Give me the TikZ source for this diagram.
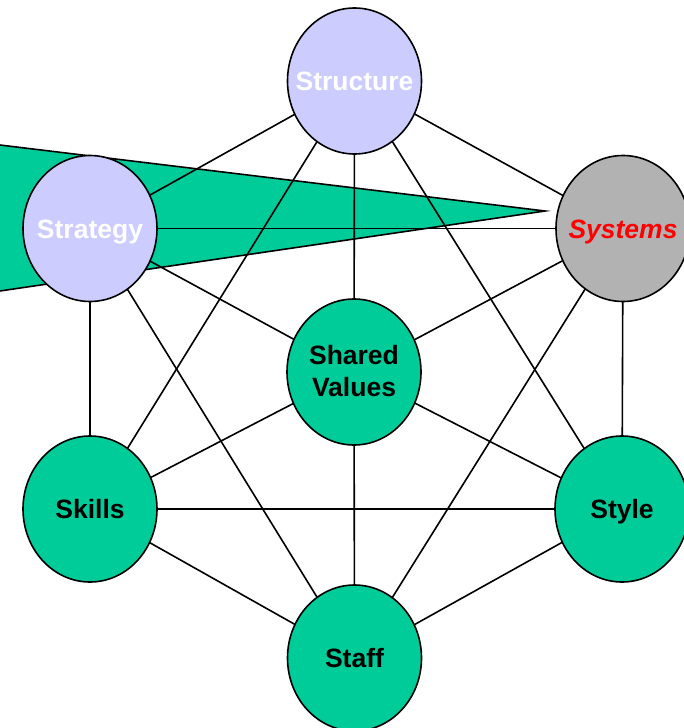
\documentclass[tikz,border=0pt]{standalone}
\usepackage{fontspec}
\setmainfont{Liberation Sans}
\usetikzlibrary{shapes.geometric,backgrounds}
\definecolor{sgreen}{HTML}{00CC99}
\definecolor{slav}{HTML}{CCCCFF}
\definecolor{sgray}{HTML}{B2B2B2}
\tikzset{
  sblob/.style={ellipse, draw=black, line width=1.6pt, minimum width=134pt, minimum height=146pt, inner sep=0pt},
  hard/.style={sblob, fill=sgreen},
  softlav/.style={sblob, fill=slav},
  softgray/.style={sblob, fill=sgray},
  lbl/.style={anchor=base, inner sep=0pt, font=\fontsize{26.5}{31}\selectfont\bfseries},
  link/.style={draw=black, line width=1.6pt},
  wedge/.style={fill=sgreen, draw=black, line width=1.6pt, line join=miter}
}
\begin{document}
\begin{tikzpicture}[x=1pt,y=-1pt]
\useasboundingbox (0,0) rectangle (684,728);
\clip (0,0) rectangle (684,728);

% the seven elements
\node[softlav]  (struct) at (354.5,81) {};
\node[softlav]  (strat)  at (90,228.5) {};
\node[softgray] (syst)   at (623,228.5) {};
\node[hard]     (shared) at (354,372) {};
\node[hard]     (skills) at (90,509) {};
\node[hard]     (style)  at (622,509) {};
\node[hard]     (staff)  at (354.5,658) {};

\begin{pgfonlayer}{background}
  % green wedge pointing at Systems
  \coordinate (wtop) at (-20,142.6);
  \coordinate (wbot) at (-20,293.9);
  \coordinate (wtip) at (545,211);
  \path[wedge] (wtop) -- (wtip) -- (wbot) -- cycle;
  % connections between the elements
  \foreach \a/\b in {struct/strat, struct/syst, struct/shared, struct/skills, struct/style,
                     strat/syst, strat/shared, strat/skills, strat/staff,
                     syst/shared, syst/style, syst/staff,
                     shared/skills, shared/style, shared/staff,
                     skills/style, skills/staff, style/staff}
    \draw[link] (\a.center) -- (\b.center);
\end{pgfonlayer}

% labels
\node[lbl, text=white] (t-struct) at ([yshift=-9.5pt]struct.center) {Structure};
\node[lbl, text=white] (t-strat)  at ([yshift=-9.5pt]strat.center) {Strategy};
\node[lbl, text=red, font=\fontsize{26.5}{31}\selectfont\bfseries\itshape] (t-syst) at ([yshift=-9.5pt]syst.center) {Systems};
\node[lbl] (t-shared1) at ([yshift=8pt]shared.center) {Shared};
\node[lbl] (t-shared2) at ([yshift=-24pt]shared.center) {Values};
\node[lbl] (t-skills) at ([yshift=-9.5pt]skills.center) {Skills};
\node[lbl] (t-style)  at ([yshift=-9.5pt]style.center) {Style};
\node[lbl] (t-staff)  at ([yshift=-9.5pt]staff.center) {Staff};
\end{tikzpicture}
\end{document}
